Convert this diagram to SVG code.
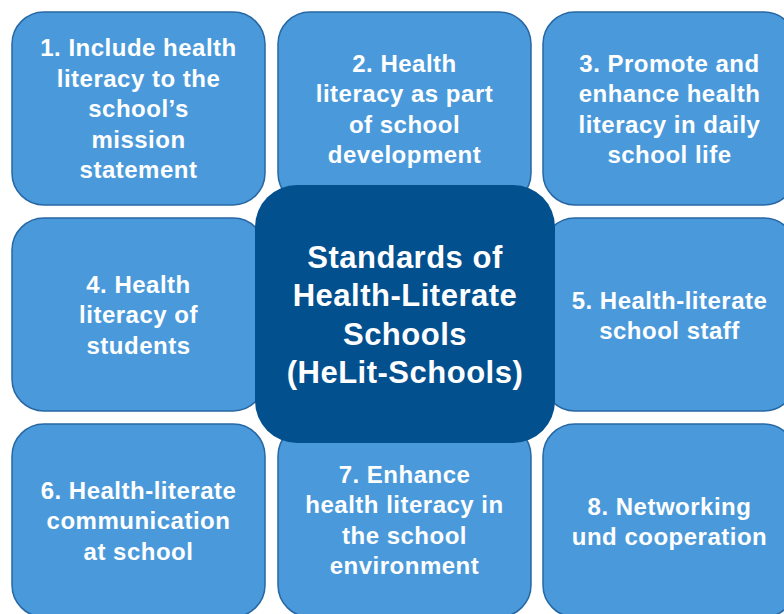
<svg xmlns="http://www.w3.org/2000/svg" width="784" height="614" viewBox="0 0 784 614">
<style>
.tile{fill:#4A9ADB;stroke:#2767A3;stroke-width:1.5}
.core{fill:#03508F}
text{font-family:"Liberation Sans",Arial,sans-serif;font-weight:bold;fill:#FFFFFF;text-anchor:middle}
.t{font-size:24px;letter-spacing:0.5px}
.c{font-size:31px;letter-spacing:0.5px}
</style>
<rect width="784" height="614" fill="#FFFFFF"/>
<g id="connectors"></g>
<g id="node1"><rect class="tile" x="12" y="12" width="253" height="193" rx="32"/>
<text class="t" x="138.5" y="56">1. Include health</text><text class="t" x="138.5" y="86.5">literacy to the</text><text class="t" x="138.5" y="117">school’s</text><text class="t" x="138.5" y="147.5">mission</text><text class="t" x="138.5" y="178">statement</text></g>
<g id="node2"><rect class="tile" x="278" y="12" width="253" height="193" rx="32"/>
<text class="t" x="404.5" y="71.5">2. Health</text><text class="t" x="404.5" y="102">literacy as part</text><text class="t" x="404.5" y="132.5">of school</text><text class="t" x="404.5" y="163">development</text></g>
<g id="node3"><rect class="tile" x="543" y="12" width="253" height="193" rx="32"/>
<text class="t" x="669.5" y="71.5">3. Promote and</text><text class="t" x="669.5" y="102">enhance health</text><text class="t" x="669.5" y="132.5">literacy in daily</text><text class="t" x="669.5" y="163">school life</text></g>
<g id="node4"><rect class="tile" x="12" y="218" width="253" height="193" rx="32"/>
<text class="t" x="138.5" y="292.5">4. Health</text><text class="t" x="138.5" y="323">literacy of</text><text class="t" x="138.5" y="353.5">students</text></g>
<g id="node5"><rect class="tile" x="543" y="218" width="253" height="193" rx="32"/>
<text class="t" x="669.5" y="308.5">5. Health-literate</text><text class="t" x="669.5" y="339">school staff</text></g>
<g id="node6"><rect class="tile" x="12" y="424" width="253" height="193" rx="32"/>
<text class="t" x="138.5" y="498.5">6. Health-literate</text><text class="t" x="138.5" y="529">communication</text><text class="t" x="138.5" y="559.5">at school</text></g>
<g id="node7"><rect class="tile" x="278" y="424" width="253" height="193" rx="32"/>
<text class="t" x="404.5" y="482.5">7. Enhance</text><text class="t" x="404.5" y="513">health literacy in</text><text class="t" x="404.5" y="543.5">the school</text><text class="t" x="404.5" y="574">environment</text></g>
<g id="node8"><rect class="tile" x="543" y="424" width="253" height="193" rx="32"/>
<text class="t" x="669.5" y="514.5">8. Networking</text><text class="t" x="669.5" y="545">und cooperation</text></g>
<g id="center"><rect class="core" x="255" y="185" width="300" height="258" rx="42"/>
<text class="c" x="405" y="267.5">Standards of</text><text class="c" x="405" y="306">Health-Literate</text><text class="c" x="405" y="344.5">Schools</text><text class="c" x="405" y="383">(HeLit-Schools)</text></g>
</svg>
